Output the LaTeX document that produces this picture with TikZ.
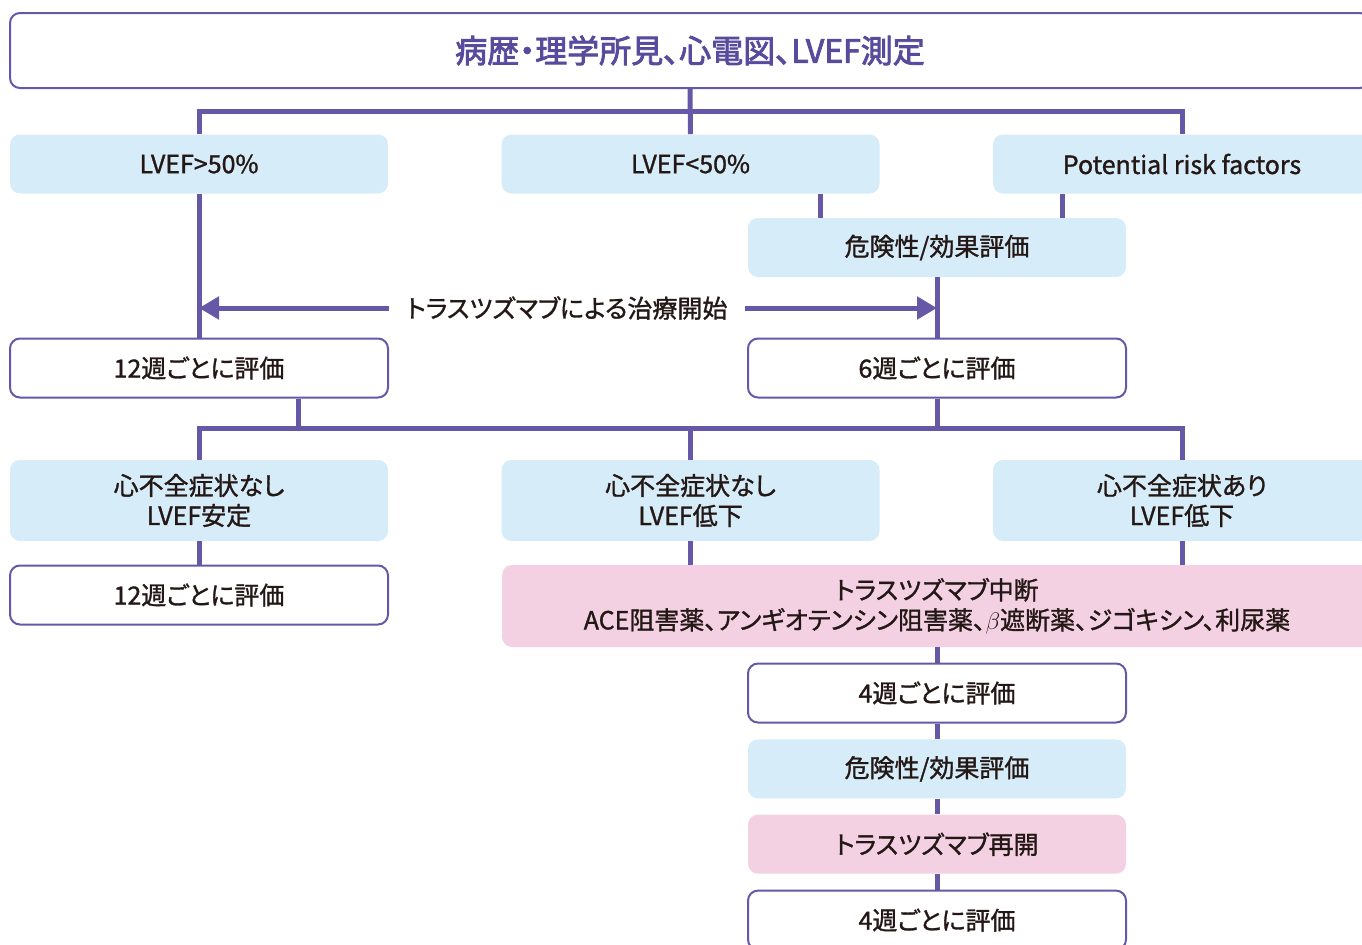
\documentclass[tikz,border=0pt]{standalone}
\usepackage{fontspec}
\setmainfont{Noto Sans CJK JP}[RawFeature={+palt}, FakeBold=1.2]
\newfontfamily\ttlfont{Noto Sans CJK JP}[RawFeature={+palt}, FakeBold=2.6]
\usepackage{tikz}
\usetikzlibrary{arrows.meta, positioning}

\definecolor{lnpurple}{RGB}{102,88,166}
\definecolor{ttlpurple}{RGB}{88,74,156}
\definecolor{boxblue}{RGB}{214,236,248}
\definecolor{boxpink}{RGB}{243,209,227}
\definecolor{txtdark}{RGB}{35,24,21}

\tikzset{
  base/.style={rounded corners=5pt, minimum width=189pt, minimum height=29.5pt,
    align=center, inner sep=0pt, text=txtdark, font=\fontsize{12.5}{15}\selectfont},
  bluebox/.style={base, fill=boxblue},
  pinkbox/.style={base, fill=boxpink},
  whitebox/.style={base, draw=lnpurple, line width=1pt, fill=white},
  line/.style={draw=lnpurple, line width=2.5pt},
}

\begin{document}
\begin{tikzpicture}[x=0.5pt, y=-0.5pt, node distance=7.75pt]
\useasboundingbox (0,0) rectangle (1362,944);

\node[whitebox, minimum width=680pt, minimum height=37.5pt, text=ttlpurple,
  font=\ttlfont\fontsize{16}{19}\selectfont] (T) at (690,50.5) {病歴・理学所見、心電図、LVEF測定};

\node[bluebox] (A) at (199,164) {LVEF>50\%};
\node[bluebox] (B) at (690.5,164) {LVEF<50\%};
\node[bluebox] (C) at (1182,164) {Potential risk factors};
\node[bluebox] (R) at (937,247.5) {危険性/効果評価};

\node[inner xsep=8.5pt, text=txtdark, font=\fontsize{12.5}{15}\selectfont] (S) at (567,308) {トラスツズマブによる治療開始};

\node[whitebox] (D) at (199,368) {12週ごとに評価};
\node[whitebox] (E) at (937,368) {6週ごとに評価};

\node[bluebox, minimum height=40.5pt] (F) at (199,500.5) {心不全症状なし\\LVEF安定};
\node[bluebox, minimum height=40.5pt] (G) at (690.5,500.5) {心不全症状なし\\LVEF低下};
\node[bluebox, minimum height=40.5pt] (H) at (1182,500.5) {心不全症状あり\\LVEF低下};

\node[whitebox] (I) at (199,595) {12週ごとに評価};
\node[pinkbox, minimum width=435pt, minimum height=41pt] (J) at (937,606)
  {トラスツズマブ中断\\ACE阻害薬、アンギオテンシン阻害薬、$\beta$遮断薬、ジゴキシン、利尿薬};

\node[whitebox] (K) at (937,693) {4週ごとに評価};
\node[bluebox] (M) [below=of K] {危険性/効果評価};
\node[pinkbox] (N) [below=of M] {トラスツズマブ再開};
\node[whitebox] (P) [below=of N] {4週ごとに評価};

\coordinate (bus1) at (690,111);
\coordinate (bus2) at (690,428);

% first split
\draw[line] (T.south) -- (B.north);
\draw[line] (A.north) |- (C.north |- bus1) -- (C.north);
\draw[line] (B.-13.65) -- (R.north -| B.-13.65);
\draw[line] (C.-166.2) -- (R.north -| C.-166.2);
\draw[line] (A.south) -- (D.north);
\draw[line] (R.south) -- (E.north);

% start of treatment
\draw[line, -{Triangle[length=10pt,width=11pt]}] (S.west) -- (A.south |- S.west);
\draw[line, -{Triangle[length=10pt,width=11pt]}] (S.east) -- (R.south |- S.east);

% second split
\draw[line] (D.-17.5) -- (D.-17.5 |- bus2);
\draw[line] (E.south) -- (E.south |- bus2);
\draw[line] (F.north) |- (H.north |- bus2) -- (H.north);
\draw[line] (G.north) -- (G.north |- bus2);
\draw[line] (F.south) -- (I.north);
\draw[line] (G.south) -- (G.south |- J.north);
\draw[line] (H.south) -- (H.south |- J.north);

% follow-up
\draw[line] (J.south) -- (K.north);
\draw[line] (K.south) -- (M.north);
\draw[line] (M.south) -- (N.north);
\draw[line] (N.south) -- (P.north);
\end{tikzpicture}
\end{document}
